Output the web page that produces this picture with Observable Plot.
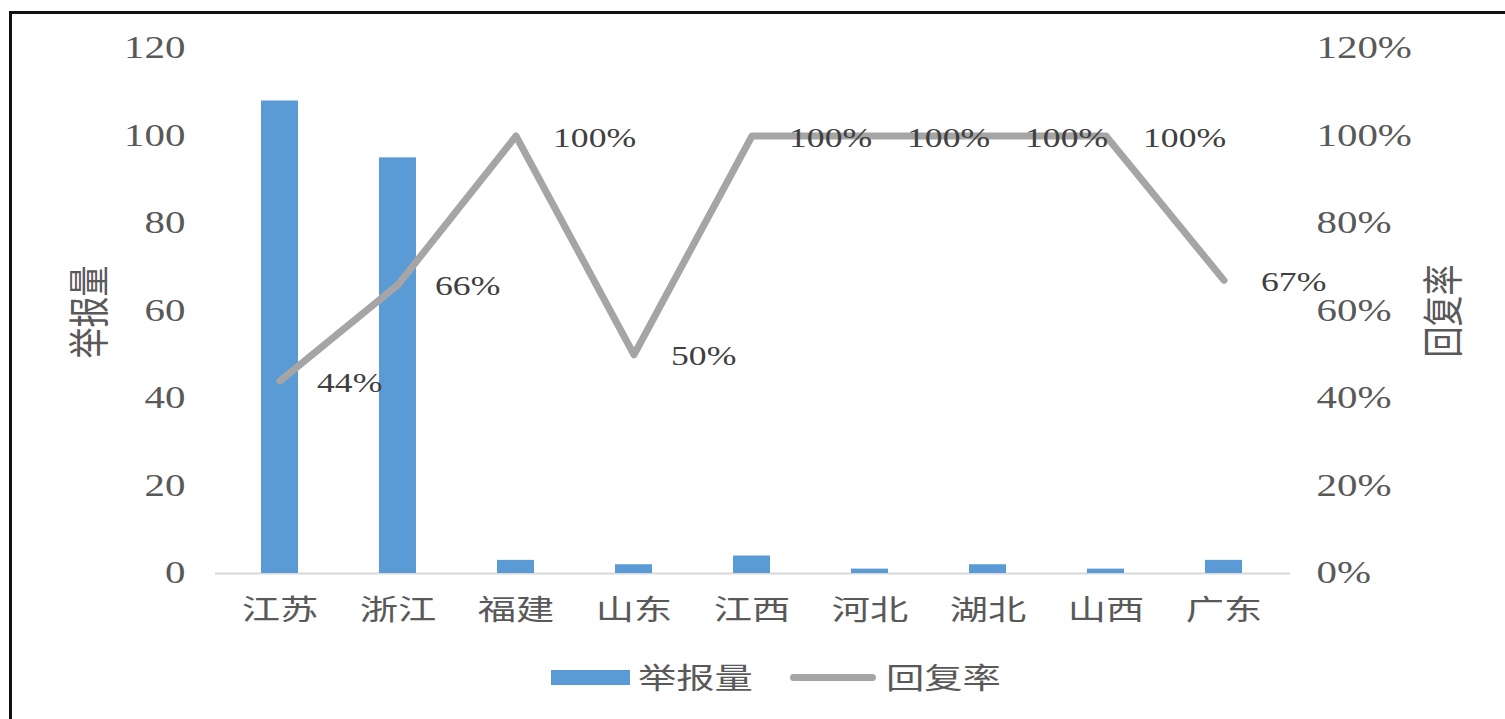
<!DOCTYPE html>
<html>
<head>
<meta charset="utf-8">
<script src="https://cdn.jsdelivr.net/npm/d3@7"></script>
<script src="https://cdn.jsdelivr.net/npm/@observablehq/plot@0.6"></script>
<style>
  html, body { margin: 0; padding: 0; background: #fff; }
  body { width: 1505px; height: 719px; position: relative; overflow: hidden; }
  #frame { position: absolute; left: 9px; top: 11px; width: 1600px; height: 800px;
           border-left: 3px solid #111; border-top: 3px solid #111; }
  #chart { position: absolute; left: 0; top: 0; }
  .leg { position: absolute; font-family: "Noto Sans CJK SC"; font-size: 29px; color: #595959;
         line-height: 1; transform: scaleX(1.32); transform-origin: left center; }
</style>
</head>
<body>
<div id="frame"></div>
<div id="chart"></div>
<div id="legend"></div>
<script>
const provinces = ["江苏", "浙江", "福建", "山东", "江西", "河北", "湖北", "山西", "广东"];
const reports = [108, 95, 3, 2, 4, 1, 2, 1, 3];
const replyRate = [44, 66, 100, 50, 100, 100, 100, 100, 67];
const leftTicks = [0, 20, 40, 60, 80, 100, 120];
const rightTicks = [0, 20, 40, 60, 80, 100, 120];
const seriesNames = ["举报量", "回复率"];

const data = provinces.map((p, i) => ({p, count: reports[i], rate: replyRate[i]}));

const numFont = "'Liberation Serif', 'Times New Roman', serif";
const cjkFont = "'Noto Sans CJK SC', sans-serif";
const stretch = 1.32;

const plot = Plot.plot({
  width: 1505,
  height: 650,
  marginLeft: 219,
  marginRight: 222,
  marginTop: 48,
  marginBottom: 77,
  x: {domain: provinces, paddingInner: 0.69, paddingOuter: 0.345},
  y: {domain: [0, 120]},
  style: {background: "transparent", fontFamily: numFont},
  marks: [
    Plot.ruleY([0], {stroke: "#D9D9D9", strokeWidth: 2, insetLeft: -4, insetRight: -7}),
    Plot.barY(data, {x: "p", y: "count", fill: "#5B9BD5"}),
    Plot.line(data, {x: "p", y: "rate", stroke: "#A5A5A5", strokeWidth: 7,
                     strokeLinecap: "round", strokeLinejoin: "round"}),
    Plot.text(data, {x: "p", y: "rate", text: d => d.rate + "%", textAnchor: "start",
                     dx: 37, dy: 2, fontSize: 27, fill: "#404040", fontFamily: numFont}),
    Plot.axisY(leftTicks, {anchor: "left", tickSize: 0, tickPadding: 34, fontSize: 31,
                           color: "#595959", label: null, fontFamily: numFont}),
    Plot.axisY(rightTicks, {anchor: "right", tickSize: 0, tickPadding: 33, fontSize: 31,
                            color: "#595959", label: null, tickFormat: d => d + "%", fontFamily: numFont}),
    Plot.axisX({tickSize: 0, tickPadding: 26, fontSize: 29, color: "#595959",
                label: null, fontFamily: cjkFont}),
    Plot.text([seriesNames[0]], {frameAnchor: "left", dx: -129, dy: 1, rotate: -90, textAnchor: "middle",
                                 lineAnchor: "middle", fontSize: 31, fill: "#595959", fontFamily: cjkFont}),
    Plot.text([seriesNames[1]], {frameAnchor: "right", dx: 161, dy: 0, rotate: -90, textAnchor: "middle",
                                 lineAnchor: "middle", fontSize: 31, fill: "#595959", fontFamily: cjkFont})
  ]
});

// the reference's lettering is drawn horizontally stretched: scale each label about its anchor
d3.select(plot).selectAll("text").each(function () {
  const t = this.getAttribute("transform") || "";
  const m = t.match(/^(translate\([^)]*\))(.*)$/);
  if (m) this.setAttribute("transform", `${m[1]} scale(${stretch},1)${m[2]}`);
  else this.setAttribute("transform", `${t} scale(${stretch},1)`);
});
document.getElementById("chart").appendChild(plot);

const legend = document.getElementById("legend");
legend.innerHTML = `
  <div style="position:absolute;left:551px;top:670px;width:79px;height:15px;background:#5B9BD5"></div>
  <div class="leg" style="left:638px;top:662px">${seriesNames[0]}</div>
  <div style="position:absolute;left:790px;top:674px;width:86px;height:7px;border-radius:4px;background:#A5A5A5"></div>
  <div class="leg" style="left:886px;top:662px">${seriesNames[1]}</div>
`;
</script>
</body>
</html>
